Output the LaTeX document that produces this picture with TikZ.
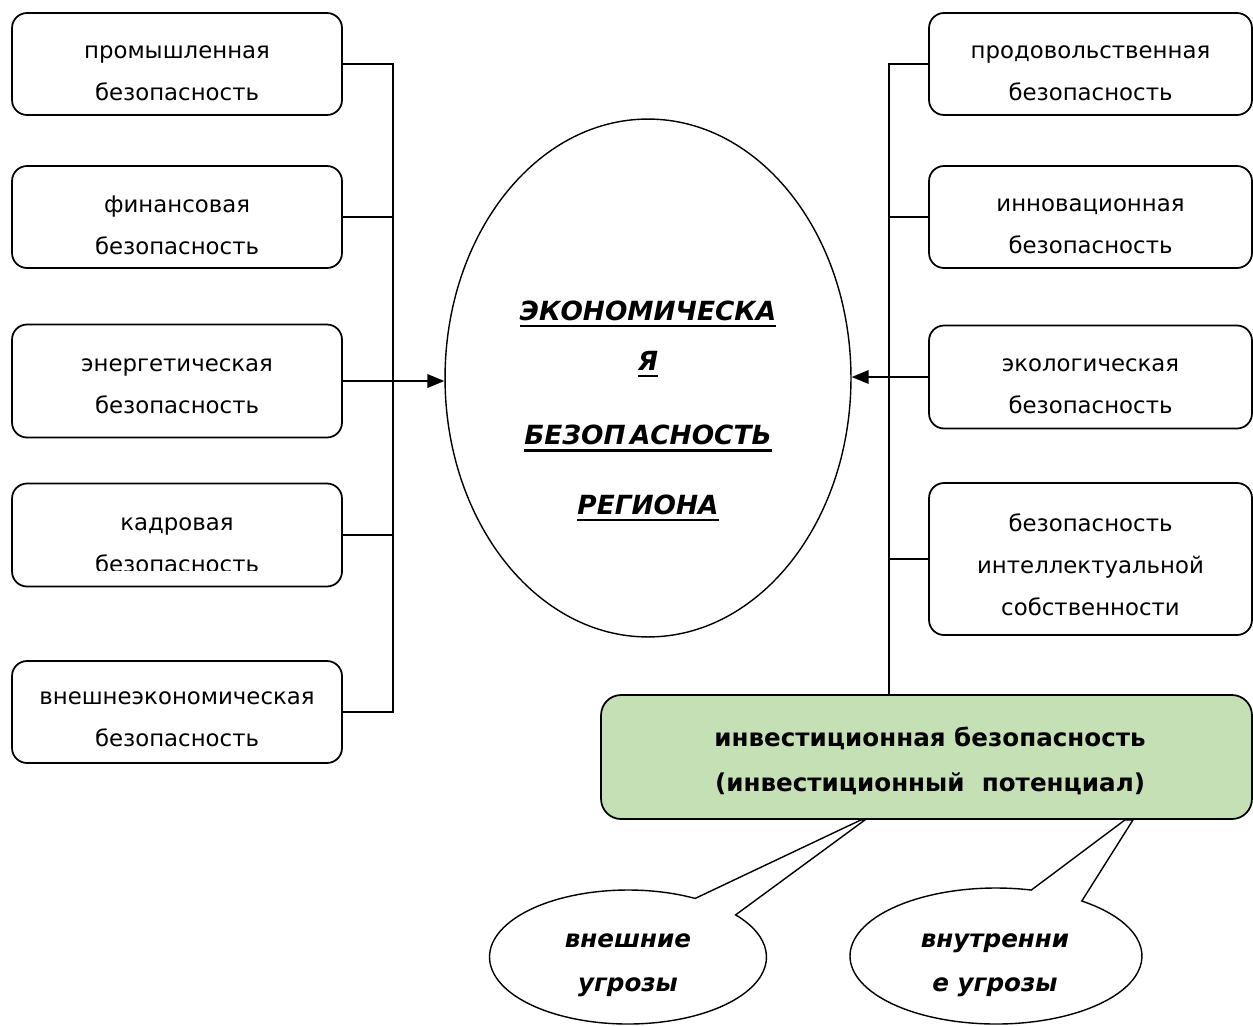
\documentclass[tikz,border=0pt]{standalone}
\usepackage{fontspec}
\setmainfont{DejaVu Sans}
\usetikzlibrary{arrows.meta,shapes.geometric,calc}
\definecolor{greenfill}{HTML}{C5E0B4}
\newcommand{\thkul}[1]{\setbox0\hbox{#1}\rlap{\rule[-4pt]{\wd0}{1.5pt}}\box0}
\newcommand{\mkbox}[6]{%
  \node[box,minimum width=#4,minimum height=#5] (#1) at #2 {};
  \node[boxtext] (#1t) at ($(#1.center)+(0,#3)$) {#6};}
\begin{document}
\begin{tikzpicture}[x=0.02cm,y=-0.02cm,
  box/.style={draw,line width=1pt,rounded corners=0.3cm,inner sep=0pt},
  boxtext/.style={align=center,inner sep=0pt,font=\fontsize{13}{24}\selectfont},
  link/.style={line width=1.1pt},
  arr/.style={line width=1.1pt,-{Triangle[length=0.34cm,width=0.27cm]}},
  callout/.style={draw,line width=0.8pt,fill=white,line join=miter},
  ctext/.style={align=center,inner sep=0pt,font=\fontsize{14}{25}\selectfont\bfseries\itshape},
  maintext/.style={align=center,inner sep=0pt,font=\fontsize{15}{28.5}\selectfont\bfseries\itshape}]
\clip (0,0) rectangle (1253,1025);
% left boxes
\mkbox{L1}{(177,64)}{9}{6.6cm}{2.04cm}{промышленная\\безопасность}
\mkbox{L2}{(177,217)}{8}{6.6cm}{2.04cm}{финансовая\\безопасность}
\mkbox{L3}{(177,381)}{5}{6.6cm}{2.26cm}{энергетическая\\безопасность}
\node[box,minimum width=6.6cm,minimum height=2.06cm] (L4) at (177,535) {};
\begin{scope}
\clip (12,480) rectangle (342,570);
\node[boxtext] (L4t) at (177,545) {кадровая\\безопасность};
\end{scope}
\mkbox{L5}{(177,712)}{7}{6.6cm}{2.04cm}{внешнеэкономическая\\безопасность}
% right boxes
\mkbox{R1}{(1090.5,64)}{9}{6.46cm}{2.04cm}{продовольственная\\безопасность}
\mkbox{R2}{(1090.5,217)}{9}{6.46cm}{2.04cm}{инновационная\\безопасность}
\mkbox{R3}{(1090.5,377)}{9}{6.46cm}{2.06cm}{экологическая\\безопасность}
\mkbox{R4}{(1090.5,559)}{6}{6.46cm}{3.04cm}{безопасность\\интеллектуальной\\собственности}
% central ellipse
\node[draw,ellipse,line width=0.8pt,minimum width=8.12cm,minimum height=10.36cm,inner sep=0pt] (E) at (648,378) {};
\node[maintext] (Et) at (648,411) {\thkul{ЭКОНОМИЧЕСКА}\\\thkul{Я}\\[14pt]\thkul{БЕЗОП\,АСНОСТЬ}\\[11pt]\thkul{РЕГИОНА}};
% green box
\node[draw,line width=1pt,fill=greenfill,rounded corners=0.4cm,minimum width=13.02cm,minimum height=2.48cm,inner sep=0pt] (G) at (926.5,757) {};
\node[align=center,inner sep=0pt,font=\fontsize{14}{26}\selectfont\bfseries] (Gt) at (930,761)
  {инвестиционная безопасность\\(инвестиционный\ \ потенциал)};
% buses
\coordinate (BL) at (393,0);
\coordinate (BR) at (889,0);
\draw[link] (L1.east) -- (L1.east -| BL) -- (L5.east -| BL) -- (L5.east);
\draw[link] (L2.east) -- (L2.east -| BL);
\draw[link] (L3.east) -- (L3.east -| BL);
\draw[link] (L4.east) -- (L4.east -| BL);
\draw[arr] (L3.east -| BL) -- (L3.east -| E.west);
\draw[link] (R1.west) -- (R1.west -| BR) -- (G.north -| BR);
\draw[link] (R2.west) -- (R2.west -| BR);
\draw[link] (R4.west) -- (R4.west -| BR);
\draw[arr] (R3.west) -- (R3.west -| E.east);
% callouts
\coordinate (C1) at (628,957);
\coordinate (C2) at (996,956);
\coordinate (T1a) at (G.south -| 861,0);
\coordinate (T1b) at (G.south -| 865,0);
\coordinate (T2a) at (G.south -| 1125,0);
\coordinate (T2b) at (G.south -| 1133,0);
\draw[callout] ($(C1)+(61:2.77cm and 1.34cm)$) arc[start angle=61,end angle=399,x radius=2.77cm,y radius=1.34cm]
  -- (T1b) -- (T1a) -- cycle;
\draw[callout] ($(C2)+(76:2.92cm and 1.36cm)$) arc[start angle=76,end angle=414,x radius=2.92cm,y radius=1.36cm]
  -- (T2b) -- (T2a) -- cycle;
\node[ctext] (C1t) at (628,965) {внешние\\угрозы};
\node[ctext] (C2t) at (995,965) {внутренни\\е угрозы};
\end{tikzpicture}
\end{document}
